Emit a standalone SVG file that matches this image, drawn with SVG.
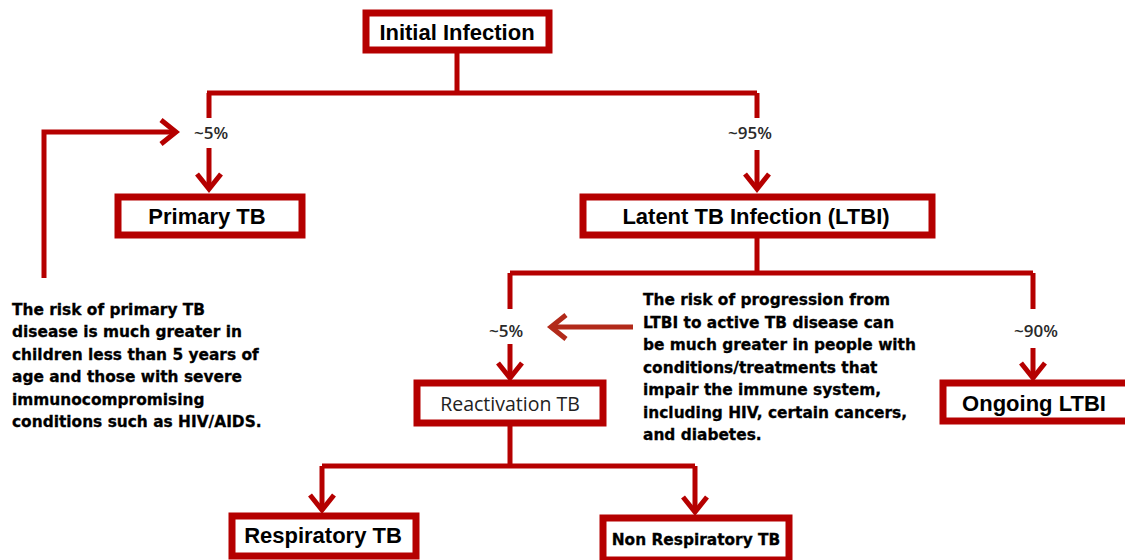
<svg xmlns="http://www.w3.org/2000/svg" width="1125" height="560" viewBox="0 0 1125 560">
<style>
.box{fill:#fff;stroke:#b50000;stroke-width:7}
.ln{fill:none;stroke:#b50000;stroke-width:5}
.lbl{font-family:"Liberation Sans",Arial,sans-serif;font-weight:bold;fill:#000;text-anchor:middle;font-size:22px}
.pct{font-family:"Open Sans","Noto Sans",sans-serif;font-size:17px;font-weight:600;fill:#2a2a2a;text-anchor:middle}
.note{font-family:"DejaVu Sans",Verdana,sans-serif;font-weight:bold;font-size:15.4px;fill:#000;stroke:#000;stroke-width:0.3}
</style>
<defs>
<marker id="chev" viewBox="-20 -15 25 30" refX="0" refY="0" markerWidth="25" markerHeight="30" orient="auto" markerUnits="userSpaceOnUse">
<path d="M -15,-12 L 0,0 L -15,12" fill="none" stroke="#b50000" stroke-width="5"/>
</marker>
<marker id="chev2" viewBox="-20 -15 25 30" refX="0" refY="0" markerWidth="25" markerHeight="30" orient="auto" markerUnits="userSpaceOnUse">
<path d="M -15,-12 L 0,0 L -15,12" fill="none" stroke="#b22a1a" stroke-width="5"/>
</marker>
</defs>
<rect width="1125" height="560" fill="#fff"/>
<g id="connectors">
<path class="ln" d="M457,52 V93 M207,93 H757 M209,93 V118 M757,93 V118"/>
<path class="ln" d="M209,148 V189" marker-end="url(#chev)"/>
<path class="ln" d="M757,150 V189" marker-end="url(#chev)"/>
<path class="ln" d="M44,278 V132 H176" marker-end="url(#chev)"/>
<path class="ln" d="M757,238 V273 M510,273 H1033 M510,273 V309 M1033,273 V309"/>
<path class="ln" d="M510,344 V378" marker-end="url(#chev)"/>
<path class="ln" d="M1033,348 V378" marker-end="url(#chev)"/>
<path d="M633,327 H551" fill="none" stroke="#b22a1a" stroke-width="5" marker-end="url(#chev2)"/>
<path class="ln" d="M510,426 V466 M322,466 H695"/>
<path class="ln" d="M322,466 V510" marker-end="url(#chev)"/>
<path class="ln" d="M695,466 V512" marker-end="url(#chev)"/>
</g>
<g id="initial-infection">
<rect class="box" x="366" y="13" width="183" height="37"/>
<text class="lbl" x="457" y="40">Initial Infection</text>
</g>
<g id="pct-primary"><text class="pct" x="211" y="139">~5%</text></g>
<g id="pct-latent"><text class="pct" x="750" y="139">~95%</text></g>
<g id="primary-tb">
<rect class="box" x="118" y="197" width="184" height="38"/>
<text class="lbl" x="207" y="224">Primary TB</text>
</g>
<g id="ltbi">
<rect class="box" x="583" y="197" width="349" height="38"/>
<text class="lbl" x="756" y="224">Latent TB Infection (LTBI)</text>
</g>
<g id="note-primary">
<text class="note" x="12" y="315">The risk of primary TB</text>
<text class="note" x="12" y="337">disease is much greater in</text>
<text class="note" x="12" y="360">children less than 5 years of</text>
<text class="note" x="12" y="382">age and those with severe</text>
<text class="note" x="12" y="405">immunocompromising</text>
<text class="note" x="12" y="427">conditions such as HIV/AIDS.</text>
</g>
<g id="pct-react"><text class="pct" x="506" y="337">~5%</text></g>
<g id="pct-ongoing"><text class="pct" x="1036" y="337">~90%</text></g>
<g id="note-progression">
<text class="note" x="643" y="305">The risk of progression from</text>
<text class="note" x="643" y="328">LTBI to active TB disease can</text>
<text class="note" x="643" y="350">be much greater in people with</text>
<text class="note" x="643" y="373">conditions/treatments that</text>
<text class="note" x="643" y="395">impair the immune system,</text>
<text class="note" x="643" y="418">including HIV, certain cancers,</text>
<text class="note" x="643" y="440">and diabetes.</text>
</g>
<g id="reactivation-tb">
<rect class="box" x="417" y="383" width="186" height="40"/>
<text x="510" y="411" font-family="'Open Sans','Noto Sans',sans-serif" font-size="19.5" font-weight="500" fill="#222" text-anchor="middle">Reactivation TB</text>
</g>
<g id="ongoing-ltbi">
<rect class="box" x="943" y="383" width="190" height="38"/>
<text class="lbl" x="1034" y="411">Ongoing LTBI</text>
</g>
<g id="respiratory-tb">
<rect class="box" x="232" y="516" width="184" height="40"/>
<text class="lbl" x="323" y="543">Respiratory TB</text>
</g>
<g id="non-respiratory-tb">
<rect class="box" x="603" y="518" width="186" height="42"/>
<text class="note" x="696" y="545" text-anchor="middle" font-size="15">Non Respiratory TB</text>
</g>
</svg>
